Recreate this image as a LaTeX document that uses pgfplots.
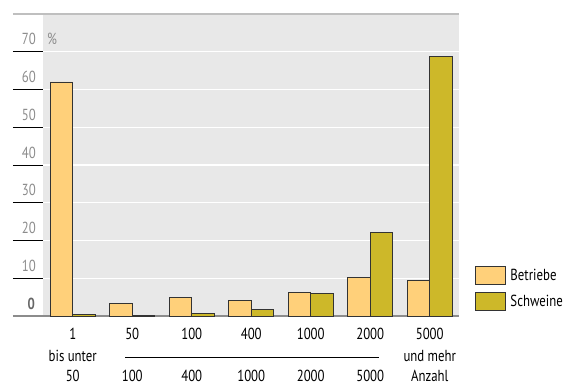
\documentclass[border=0pt]{standalone}
\usepackage{pgfplots}
\pgfplotsset{compat=1.18}
\usepackage{fontspec}
\setmainfont{PT Sans}[FakeStretch=0.8]
\definecolor{betr}{HTML}{FFD07A}
\definecolor{schw}{HTML}{CDB829}
\definecolor{bg}{HTML}{E8E8E8}
\definecolor{lab}{HTML}{8C8C8C}
\definecolor{topline}{HTML}{BFBFBF}

\begin{document}
\begin{tikzpicture}[font=\fontsize{16pt}{19pt}\selectfont]
\begin{axis}[
  scale only axis, width=416.5pt, height=302pt,
  at={(0,0)}, anchor=south west,
  xmin=-0.5, xmax=6.5, ymin=0, ymax=80,
  axis line style={draw=none},
  axis background/.style={fill=bg},
  ytick={10,20,...,70}, yticklabels={}, ytick pos=left,
  ymajorgrids, grid style={white, line width=1.2pt},
  major tick length=30pt, ytick align=outside,
  y tick style={black, line width=0.8pt},
  xtick={0,...,6}, xticklabels={}, x tick style={draw=none},
  clip=false,
  ybar, bar width=22.5pt,
  every axis plot/.append style={draw=black!80, line width=0.8pt},
  legend image code/.code={\draw[#1] (0pt,-9pt) rectangle (30pt,9pt);},
  legend style={at={(axis cs:6.5,0)}, anchor=south west, xshift=15pt, yshift=5pt,
    draw=none, fill=none, inner sep=0pt, row sep=7pt, column sep=5pt,
    nodes={inner sep=0pt, text=black}},
  legend cell align=left,
]
% Rahmenlinien
\draw[topline, line width=1.5pt] ([xshift=-30pt]axis cs:-0.5,80) -- (axis cs:6.5,80);
\draw[black!45, line width=1.5pt] ([xshift=-30pt]axis cs:-0.5,0) -- (axis cs:6.5,0);

% Anteil der Betriebe und der Schweine je Bestandsgrößenklasse
\addplot[fill=betr, bar shift=-11.25pt] coordinates {
  (0,62.0) (1,3.3) (2,4.9) (3,4.0) (4,6.3) (5,10.2) (6,9.3)};
\addplot[fill=schw, bar shift=11.25pt] coordinates {
  (0,0.3) (1,0.2) (2,0.7) (3,1.8) (4,6.0) (5,22.1) (6,68.8)};
\legend{Betriebe, Schweine}

% Beschriftung der y-Achse
\node[anchor=base east, text=lab, inner sep=0pt] at ([xshift=-7pt,yshift=7pt]axis cs:-0.5,10) {10};
\node[anchor=base east, text=lab, inner sep=0pt] at ([xshift=-7pt,yshift=7pt]axis cs:-0.5,20) {20};
\node[anchor=base east, text=lab, inner sep=0pt] at ([xshift=-7pt,yshift=7pt]axis cs:-0.5,30) {30};
\node[anchor=base east, text=lab, inner sep=0pt] at ([xshift=-7pt,yshift=7pt]axis cs:-0.5,40) {40};
\node[anchor=base east, text=lab, inner sep=0pt] at ([xshift=-7pt,yshift=7pt]axis cs:-0.5,50) {50};
\node[anchor=base east, text=lab, inner sep=0pt] at ([xshift=-7pt,yshift=7pt]axis cs:-0.5,60) {60};
\node[anchor=base east, text=lab, inner sep=0pt] at ([xshift=-7pt,yshift=7pt]axis cs:-0.5,70) {70};
\node[anchor=base east, text=black!60, inner sep=0pt, font=\fontsize{16pt}{19pt}\selectfont\bfseries] at ([xshift=-8pt,yshift=6pt]axis cs:-0.5,0) {0};
\node[anchor=base west, text=lab, inner sep=0pt] at ([xshift=4pt,yshift=7pt]axis cs:-0.5,70) {\%};

% Beschriftung der Größenklassen
\node[anchor=base, inner sep=0pt] at ([yshift=-24pt]axis cs:0,0) {1};
\node[anchor=base, inner sep=0pt] at ([yshift=-24pt]axis cs:1,0) {50};
\node[anchor=base, inner sep=0pt] at ([yshift=-24pt]axis cs:2,0) {100};
\node[anchor=base, inner sep=0pt] at ([yshift=-24pt]axis cs:3,0) {400};
\node[anchor=base, inner sep=0pt] at ([yshift=-24pt]axis cs:4,0) {1000};
\node[anchor=base, inner sep=0pt] at ([yshift=-24pt]axis cs:5,0) {2000};
\node[anchor=base, inner sep=0pt] at ([yshift=-24pt]axis cs:6,0) {5000};
\node[anchor=base, inner sep=0pt] at ([yshift=-46pt]axis cs:0,0) {bis unter};
\node[anchor=base, inner sep=0pt] at ([yshift=-46pt]axis cs:6,0) {und mehr};
\draw[black, line width=0.8pt] ([yshift=-41pt]axis cs:0.88,0) -- ([yshift=-41pt]axis cs:5.15,0);
\node[anchor=base, inner sep=0pt] at ([yshift=-66pt]axis cs:0,0) {50};
\node[anchor=base, inner sep=0pt] at ([yshift=-66pt]axis cs:1,0) {100};
\node[anchor=base, inner sep=0pt] at ([yshift=-66pt]axis cs:2,0) {400};
\node[anchor=base, inner sep=0pt] at ([yshift=-66pt]axis cs:3,0) {1000};
\node[anchor=base, inner sep=0pt] at ([yshift=-66pt]axis cs:4,0) {2000};
\node[anchor=base, inner sep=0pt] at ([yshift=-66pt]axis cs:5,0) {5000};
\node[anchor=base, inner sep=0pt] at ([yshift=-66pt]axis cs:6,0) {Anzahl};
\end{axis}
\pgfresetboundingbox
\path (-43pt,-69pt) rectangle (520pt,316pt);
\end{tikzpicture}
\end{document}
